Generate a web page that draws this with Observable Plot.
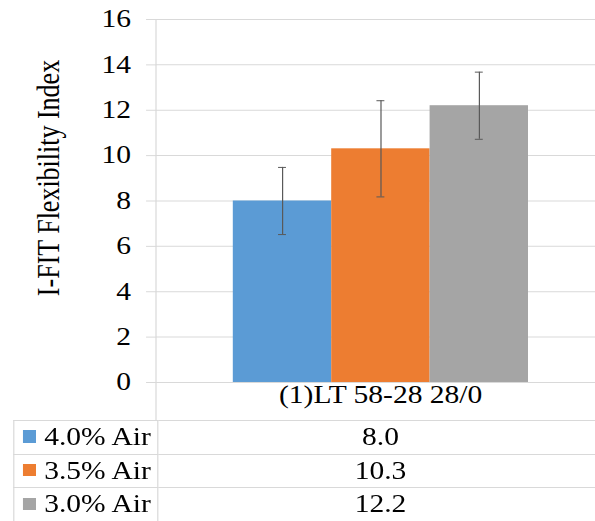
<!DOCTYPE html>
<html>
<head>
<meta charset="utf-8">
<script src="https://cdn.jsdelivr.net/npm/d3@7"></script>
<script src="https://cdn.jsdelivr.net/npm/@observablehq/plot@0.6"></script>
<style>
  html, body { margin: 0; padding: 0; background: #fff; overflow: hidden; }
  #wrap { width: 503.33px; transform: scaleX(1.2); transform-origin: 0 0; font-family: "Liberation Serif", "Times New Roman", serif; color: #000; }
  #wrap svg { display: block; }
  table { border-collapse: collapse; margin-left: 10.83px; width: 492.5px; table-layout: fixed; font-size: 24.6px; }
  td { border: 1px solid #d9d9d9; height: 32.7px; padding: 0; line-height: 1; }
  td.lab { width: 112px; padding-left: 7px; white-space: nowrap; }
  td.val { text-align: center; }
  .sw { display: inline-block; width: 11px; height: 12.5px; margin-right: 7px; vertical-align: 2.4px; }
</style>
</head>
<body>
<div id="wrap"></div>
<script>
const category = ["(1)LT 58-28 28/0"];
const series = ["4.0% Air", "3.5% Air", "3.0% Air"];
const values = [8.0, 10.3, 12.2];
const errors = [1.48, 2.12, 1.48];
const colors = ["#5B9BD5", "#ED7D31", "#A5A5A5"];
const yTicks = [0, 2, 4, 6, 8, 10, 12, 14, 16];
const yTitle = "I-FIT Flexibility Index";

const data = series.map((s, i) => ({series: s, value: values[i], err: errors[i]}));

const axisLine = (index, scales, vals, dims) =>
  d3.create("svg:line")
    .attr("x1", dims.marginLeft).attr("x2", dims.marginLeft)
    .attr("y1", dims.marginTop).attr("y2", dims.height)
    .attr("stroke", "#d9d9d9").node();

const chart = Plot.plot({
  width: 503.33,
  height: 420,
  marginLeft: 130,
  marginRight: 0,
  marginTop: 19,
  marginBottom: 38,
  style: {fontFamily: '"Liberation Serif", "Times New Roman", serif', fontSize: "24.6px", color: "#000", background: "#fff", overflow: "visible"},
  x: {domain: series, axis: null, paddingInner: 0, paddingOuter: 0.75, align: 0.5},
  y: {domain: [0, 16]},
  color: {domain: series, range: colors},
  marks: [
    Plot.gridY(yTicks, {stroke: "#d9d9d9", strokeOpacity: 1}),
    Plot.axisY(yTicks, {tickSize: 8.3, tickPadding: 13, stroke: "#d9d9d9", fill: "#000", fontSize: 24.6, label: null, tickFormat: d => String(d)}),
    axisLine,
    Plot.barY(data, {x: "series", y: "value", fill: "series"}),
    Plot.ruleX(data, {x: "series", y1: d => d.value - d.err, y2: d => d.value + d.err, stroke: "#595959", strokeWidth: 1}),
    Plot.tickY(data, {x: "series", y: d => d.value + d.err, stroke: "#595959", insetLeft: 37.7, insetRight: 37.7}),
    Plot.tickY(data, {x: "series", y: d => d.value - d.err, stroke: "#595959", insetLeft: 37.7, insetRight: 37.7}),
    Plot.text(category, {frameAnchor: "bottom", textAnchor: "middle", dy: 21, fontSize: 24.6, fill: "#000"}),
    Plot.text([yTitle], {frameAnchor: "left", textAnchor: "middle", lineAnchor: "middle", rotate: -90, dx: -90, dy: -23, fontSize: 26, fill: "#000"})
  ]
});

const wrap = document.getElementById("wrap");
wrap.appendChild(chart);

const table = d3.select(wrap).append("table");
const rows = table.selectAll("tr").data(data).join("tr");
const lab = rows.append("td").attr("class", "lab");
lab.append("span").attr("class", "sw").style("background", (d, i) => colors[i]);
lab.append("span").text(d => d.series);
rows.append("td").attr("class", "val").text(d => d.value.toFixed(1));
</script>
</body>
</html>
